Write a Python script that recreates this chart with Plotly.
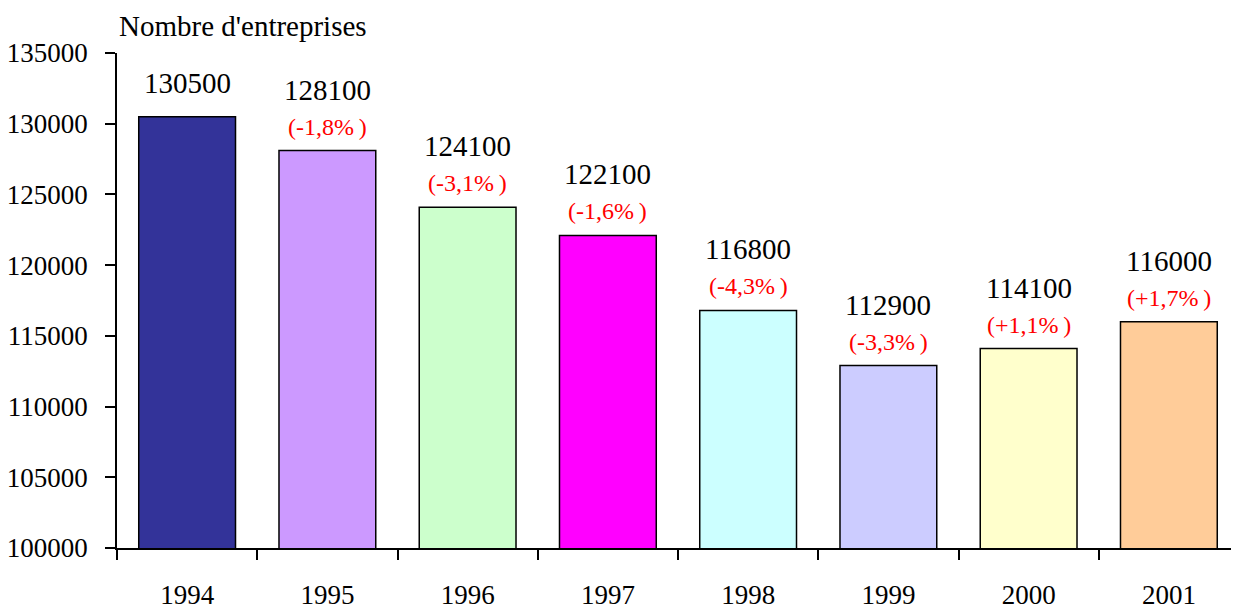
import plotly.graph_objects as go

years = ["1994", "1995", "1996", "1997", "1998", "1999", "2000", "2001"]
values = [130500, 128100, 124100, 122100, 116800, 112900, 114100, 116000]
changes = ["", "(-1,8%\u2009)", "(-3,1%\u2009)", "(-1,6%\u2009)", "(-4,3%\u2009)",
           "(-3,3%\u2009)", "(+1,1%\u2009)", "(+1,7%\u2009)"]
colors = ["#333399", "#CC99FF", "#CCFFCC", "#FF00FF", "#CCFFFF", "#CCCCFF", "#FFFFCC", "#FFCC99"]
y_ticks = [100000, 105000, 110000, 115000, 120000, 125000, 130000, 135000]

FONT = "Liberation Serif, Times New Roman, serif"

fig = go.Figure(go.Bar(
    x=years, y=values,
    marker=dict(color=colors, line=dict(color="black", width=1.5)),
    width=0.69,
))

annotations = []
for i, (v, c) in enumerate(zip(values, changes)):
    if c:
        annotations.append(dict(x=i, y=v, text=c, showarrow=False, yanchor="middle",
                                yshift=24, font=dict(color="red", size=24, family=FONT)))
        annotations.append(dict(x=i, y=v, text=str(v), showarrow=False, yanchor="middle",
                                yshift=61, font=dict(color="black", size=29, family=FONT)))
    else:
        annotations.append(dict(x=i, y=v, text=str(v), showarrow=False, yanchor="middle",
                                yshift=34, font=dict(color="black", size=29, family=FONT)))

annotations.append(dict(xref="paper", yref="paper", x=0, y=1, xanchor="left", yanchor="middle",
                        yshift=27, text="Nombre d'entreprises", showarrow=False,
                        font=dict(color="black", size=29, family=FONT)))

fig.update_layout(
    width=1231, height=602,
    margin=dict(l=109, r=0, t=45, b=62),
    paper_bgcolor="white", plot_bgcolor="white",
    font=dict(family=FONT, size=27, color="black"),
    showlegend=False,
    annotations=annotations,
    xaxis=dict(type="category", range=[-0.5, 7.5], autorange=False, automargin=False,
               showline=True, linecolor="black", linewidth=1.5, tickangle=0,
               ticks="outside", tickson="boundaries", ticklen=10, tickwidth=1.5, tickcolor="black",
               ticklabelstandoff=22, showgrid=False, tickfont=dict(size=27, family=FONT)),
    yaxis=dict(range=[100000, 135000], autorange=False, tickvals=y_ticks, tickformat="d",
               automargin=False, showline=True, linecolor="black",
               linewidth=1.5, ticks="outside", ticklen=10, tickwidth=1.5, tickcolor="black",
               showgrid=False, zeroline=False, ticklabelstandoff=12,
               tickfont=dict(size=27, family=FONT)),
)

fig.write_html("out.html")
